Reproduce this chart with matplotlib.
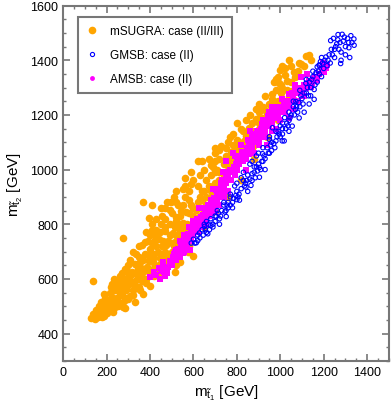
import numpy as np
import matplotlib.pyplot as plt
from matplotlib.lines import Line2D
from matplotlib.ticker import MultipleLocator

plt.rcParams['font.family'] = ['Liberation Sans', 'DejaVu Sans']
plt.rcParams['mathtext.fontset'] = 'custom'
plt.rcParams['mathtext.rm'] = 'Liberation Sans'
plt.rcParams['mathtext.it'] = 'Liberation Sans'

# mSUGRA: case (II/III)  (m_stop1, m_stop2) in GeV
msugra = [
    (130, 455), (145, 452), (138, 472), (160, 460), (177, 462), (183, 490), (150, 485),
    (200, 475), (230, 480), (215, 505), (175, 515), (195, 530), (223, 534), (240, 520),
    (260, 545), (246, 563), (277, 497), (284, 494), (270, 575), (290, 560), (307, 539),
    (330, 516), (367, 545), (399, 575), (445, 611), (300, 590), (321, 581), (261, 610),
    (284, 635), (136, 593), (250, 590), (280, 600), (310, 610), (340, 600), (361, 593),
    (344, 617), (330, 653), (300, 650), (360, 640), (384, 642), (413, 660), (390, 689),
    (370, 670), (420, 690), (445, 678), (400, 710), (430, 720), (422, 743), (460, 740),
    (476, 725), (468, 774), (505, 769), (490, 800), (521, 828), (551, 805), (540, 780),
    (520, 740), (500, 700), (480, 680), (514, 624), (560, 760), (598, 683), (580, 720),
    (567, 846), (613, 852), (491, 852), (498, 882), (408, 870), (367, 881), (277, 750),
    (361, 725), (395, 823), (450, 800), (530, 870), (590, 948), (560, 900), (620, 880),
    (640, 920), (600, 960), (620, 1032), (660, 960), (682, 1015), (700, 990), (688, 1011),
    (720, 1040), (728, 1087), (760, 1020), (774, 1063), (800, 1060), (812, 1093), (830, 1080),
    (842, 1123), (858, 1153), (870, 1110), (835, 1105), (904, 1171), (888, 1184), (920, 1160),
    (934, 1213), (940, 1207), (964, 1243), (980, 1195), (960, 1275), (1003, 1311), (995, 1316),
    (1032, 1325), (1003, 1280), (1049, 1286), (998, 1364), (1064, 1358), (1087, 1391),
    (1095, 1388), (1118, 1414), (1141, 1400), (1020, 1250), (990, 1230), (950, 1180),
    (900, 1130), (870, 1140), (780, 1000), (740, 980), (700, 950), (660, 900), (640, 860),
    (600, 830), (570, 800), (540, 830), (620, 810), (680, 920), (720, 960), (760, 1000),
    (800, 1030), (840, 1070), (880, 1090), (730, 930), (690, 880), (650, 840), (610, 780),
    (560, 740), (520, 760), (470, 700), (440, 650), (410, 620), (380, 600), (350, 570),
    (320, 560), (290, 530), (260, 510), (350, 680), (320, 700), (400, 760), (430, 780),
    (455, 830), (470, 860), (510, 900), (550, 930), (700, 1060), (760, 1100), (820, 1150),
    (860, 1200), (900, 1240), (980, 1330), (1010, 1380), (1040, 1400), (270, 540), (200, 500),
    (240, 560), (330, 620), (360, 610), (420, 640), (470, 660), (500, 730), (540, 800),
    (590, 870), (630, 900), (670, 940), (710, 1000), (750, 1050), (790, 1080), (920, 1190),
    (1030, 1290),
    (155, 470), (170, 480), (190, 465), (210, 490), (235, 495), (255, 500),
    (165, 500), (185, 510), (205, 520), (230, 515), (250, 530), (280, 520), (300, 525),
    (320, 540), (190, 545), (215, 550),
    (220, 570), (225, 580), (255, 575), (275, 560), (295, 575), (315, 590), (335, 575),
    (355, 560), (380, 585), (235, 600), (265, 590),
    (270, 620), (295, 630), (315, 625), (345, 640), (370, 625), (395, 630), (420, 610),
    (440, 630), (300, 605), (350, 605),
    (310, 670), (335, 690), (355, 660), (375, 690), (395, 665), (415, 675), (435, 700),
    (455, 690), (475, 670), (495, 690), (520, 650), (540, 660),
    (350, 720), (375, 735), (390, 740), (410, 730), (440, 745), (455, 720), (485, 740),
    (510, 720), (530, 700), (560, 720), (575, 700),
    (380, 770), (410, 780), (425, 760), (445, 770), (470, 790), (490, 760), (515, 790),
    (535, 760), (555, 780), (585, 770), (600, 790),
    (410, 800), (430, 820), (470, 820), (500, 840), (520, 810), (545, 850), (580, 840),
    (600, 800), (630, 830),
    (450, 860), (480, 880), (520, 880), (550, 870), (580, 890), (600, 860), (640, 890),
    (660, 870), (680, 900),
    (520, 920), (560, 940), (580, 920), (620, 940), (650, 920), (690, 940), (710, 920),
    (560, 970), (590, 990), (630, 980), (650, 1000), (680, 980), (720, 990), (750, 970),
    (640, 1030), (670, 1040), (700, 1030), (740, 1020), (770, 1040), (790, 1020), (810, 1050),
    (700, 1080), (720, 1070), (750, 1080), (780, 1090), (820, 1070), (850, 1090), (870, 1080),
    (770, 1120), (780, 1130), (800, 1110), (830, 1140), (880, 1130), (900, 1150),
    (800, 1170), (840, 1180), (870, 1170), (900, 1190), (930, 1180), (960, 1200),
    (890, 1220), (900, 1210), (920, 1230), (950, 1240), (990, 1250),
    (930, 1270), (960, 1260), (980, 1290), (1010, 1300), (1040, 1270),
    (970, 1320), (990, 1340), (1020, 1345), (1050, 1320), (1070, 1340),
    (1020, 1370), (1050, 1380), (1080, 1360), (1110, 1380), (1130, 1420),
    (700, 850), (760, 900), (820, 960), (880, 1040), (940, 1120), (990, 1180), (650, 790),
    (1060, 1260),
]

# GMSB: case (II)
gmsb = [
    (590, 731), (606, 731), (628, 768), (613, 732), (651, 792), (666, 765), (640, 780),
    (674, 780), (660, 810), (690, 800), (700, 830), (705, 828), (720, 820), (751, 828),
    (730, 850), (740, 870), (760, 860), (780, 880), (770, 900), (812, 888), (800, 920),
    (790, 940), (842, 936), (830, 960), (865, 942), (850, 980), (820, 970), (880, 990),
    (904, 972), (890, 1010), (904, 1008), (870, 1030), (918, 1058), (930, 1040), (900, 1060),
    (940, 1080), (960, 1100), (980, 1105), (950, 1120), (964, 1153), (990, 1140), (1009, 1105),
    (1000, 1160), (1018, 1105), (1030, 1170), (1055, 1159), (1020, 1190), (1050, 1200),
    (1087, 1189), (1072, 1249), (1060, 1230), (1090, 1230), (1100, 1260), (1118, 1316),
    (1133, 1240), (1156, 1257), (1120, 1280), (1140, 1300), (1156, 1293), (1170, 1320),
    (1180, 1350), (1150, 1340), (1170, 1376), (1179, 1383), (1200, 1370), (1210, 1412),
    (1220, 1400), (1232, 1472), (1250, 1440), (1240, 1420), (1266, 1494), (1278, 1388),
    (1280, 1430), (1300, 1450), (1316, 1446), (1290, 1470), (1310, 1480), (1339, 1478),
    (1320, 1410), (1260, 1460), (1230, 1390), (1190, 1410), (1130, 1270), (1110, 1210),
    (1080, 1210), (1040, 1140), (1000, 1120), (960, 1070), (930, 1000), (900, 1020),
    (870, 960), (840, 950), (810, 910), (780, 860), (750, 850), (720, 800), (690, 790),
    (660, 770), (630, 750), (760, 880), (800, 890), (850, 920), (880, 1010), (920, 1030),
    (950, 1060), (975, 1080), (1010, 1150), (1040, 1180), (1070, 1220), (1105, 1240),
    (1140, 1270), (1160, 1310), (1190, 1340), (1215, 1380), (1250, 1410), (1270, 1440),
    (1300, 1420), (1330, 1465), (1285, 1495), (1245, 1480),
    (600, 745), (620, 740), (645, 760), (655, 780), (680, 795), (670, 800), (700, 810),
    (715, 840), (725, 830), (745, 845), (755, 870), (770, 870), (785, 895), (795, 905),
    (805, 900), (820, 930), (835, 940), (845, 960), (860, 965), (870, 985), (885, 970),
    (895, 995), (910, 1000), (915, 1030), (925, 1050), (945, 1060), (955, 1090), (970, 1095),
    (985, 1120), (995, 1130), (1010, 1130), (1025, 1150), (1035, 1160), (1045, 1190),
    (1065, 1200), (1075, 1230), (1085, 1245), (1095, 1270), (1110, 1280), (1125, 1300),
    (1135, 1320), (1145, 1330), (1165, 1355), (1175, 1360), (1185, 1395), (1195, 1390),
    (1205, 1400), (1225, 1420), (1235, 1440), (1255, 1450), (1275, 1465), (1295, 1485),
    (1325, 1490), (1315, 1465), (1265, 1475), (1340, 1455), (1280, 1400),
    (680, 820), (710, 850), (740, 880), (770, 910), (800, 950), (830, 990), (860, 1020),
    (890, 1050), (920, 1080), (950, 1110), (980, 1140), (1010, 1170), (1040, 1210),
    (1060, 1250), (1090, 1290), (1120, 1330), (1150, 1360), (1180, 1380), (650, 800),
    (620, 760),
]

# AMSB: case (II)
amsb = [
    (399, 607), (445, 599), (453, 629), (430, 615), (470, 640), (482, 642), (491, 665),
    (460, 660), (505, 680), (528, 689), (515, 700), (521, 707), (551, 696), (537, 739),
    (545, 720), (567, 750), (555, 760), (582, 707), (597, 774), (580, 790), (610, 770),
    (620, 803), (600, 810), (643, 834), (630, 790), (659, 798), (666, 852), (650, 860),
    (628, 860), (670, 830), (690, 870), (680, 890), (700, 880), (705, 924), (715, 900),
    (690, 930), (730, 910), (725, 950), (740, 940), (751, 985), (745, 960), (760, 970),
    (770, 1000), (735, 990), (785, 1010), (812, 1022), (800, 1040), (790, 980), (820, 1050),
    (830, 1030), (858, 1058), (845, 1080), (860, 1090), (870, 1070), (858, 1094), (880, 1100),
    (904, 1105), (890, 1130), (910, 1120), (870, 1120), (918, 1166), (930, 1140), (950, 1159),
    (940, 1180), (960, 1170), (980, 1202), (970, 1220), (990, 1190), (1000, 1230), (1009, 1221),
    (1020, 1210), (1041, 1189), (1030, 1250), (1041, 1275), (1060, 1260), (1070, 1290),
    (1095, 1340), (1101, 1286), (1120, 1300), (1141, 1304), (1147, 1316), (1170, 1329),
    (1160, 1340), (1202, 1358), (1216, 1383), (1190, 1370), (760, 920), (720, 870), (680, 840),
    (640, 810), (600, 760), (570, 720), (540, 680), (500, 650), (880, 1060), (900, 1090),
    (930, 1120), (960, 1140), (1000, 1180), (840, 1040), (800, 1000), (775, 960), (740, 900),
    (700, 850), (660, 820), (620, 770), (590, 740), (555, 700), (520, 670), (480, 620),
    (840, 1000), (940, 1090), (980, 1150), (1060, 1220), (1080, 1250), (1110, 1270),
    (1010, 1260), (950, 1210), (910, 1150), (860, 1140), (820, 1090), (780, 1060), (750, 1030),
    (420, 625), (440, 640), (465, 625), (495, 655), (510, 690), (530, 710), (550, 735),
    (565, 730), (575, 765), (590, 780), (605, 790), (615, 820), (635, 825), (655, 840),
    (665, 870), (675, 855), (695, 895), (710, 910), (720, 930), (735, 925), (750, 950),
    (765, 990), (780, 995), (795, 1020), (810, 1030), (825, 1065), (835, 1055), (850, 1070),
    (865, 1100), (885, 1115), (895, 1140), (905, 1135), (920, 1150), (935, 1170), (945, 1195),
    (960, 1190), (975, 1200), (985, 1230), (995, 1215), (1015, 1240), (1025, 1230),
    (1050, 1250), (1055, 1280), (1080, 1280), (1090, 1300), (1110, 1310), (1130, 1325),
    (1150, 1330), (1180, 1350), (1195, 1390), (1210, 1370), (690, 850), (710, 880),
    (650, 800), (730, 960), (790, 1050), (850, 1110), (920, 1180), (960, 1230), (1070, 1310),
    (1125, 1350), (580, 760), (540, 700), (470, 610), (620, 790), (870, 1090), (1000, 1210),
    (1040, 1230),
]

x_ticks = [0, 200, 400, 600, 800, 1000, 1200, 1400]
y_ticks = [400, 600, 800, 1000, 1200, 1400, 1600]

fig = plt.figure(figsize=(3.92, 4.14), dpi=100)
ax = fig.add_axes([0.161, 0.126, 0.831, 0.858])

ms = np.array(msugra)
gm = np.array(gmsb)
am = np.array(amsb)

ax.scatter(ms[:, 0], ms[:, 1], s=30, color='#ffa500', linewidths=0)
ax.scatter(am[:, 0], am[:, 1], s=13, color='#ff00ff', marker='s', linewidths=0)
ax.scatter(gm[:, 0], gm[:, 1], s=10, facecolors='none', edgecolors='#0000ff', linewidths=0.8)

ax.set_xlim(0, 1500)
ax.set_ylim(300, 1600)
ax.set_xticks(x_ticks)
ax.set_yticks(y_ticks)
ax.xaxis.set_minor_locator(MultipleLocator(50))
ax.yaxis.set_minor_locator(MultipleLocator(50))
ax.tick_params(which='both', direction='in', top=True, right=True, labelsize=9, colors='#777777',
               labelcolor='black')
ax.tick_params(which='major', length=5, width=1.2)
ax.tick_params(which='minor', length=2.5, width=1)
for sp in ax.spines.values():
    sp.set_color('#777777')
    sp.set_linewidth(1.5)

ax.set_xlabel(r'm$_{\tilde{\mathrm{t}}_1}$ [GeV]', fontsize=11)
ax.set_ylabel(r'm$_{\tilde{\mathrm{t}}_2}$ [GeV]', fontsize=11)

# legend with its own marker sizes
handles = [
    Line2D([], [], ls='none', marker='o', ms=5.5, mfc='#ffa500', mec='none'),
    Line2D([], [], ls='none', marker='o', ms=3, mfc='none', mec='#0000ff', mew=0.8),
    Line2D([], [], ls='none', marker='o', ms=3.5, mfc='#ff00ff', mec='none'),
]
labels = ['mSUGRA: case (II/III)', 'GMSB: case (II)', 'AMSB: case (II)']
leg = ax.legend(handles, labels, loc='upper left',
                bbox_to_anchor=(0.046, 0.968), borderaxespad=0, fontsize=8.5,
                fancybox=False, framealpha=1, edgecolor='#777777', labelspacing=1.0,
                handletextpad=1.0, borderpad=0.7, handlelength=1.0)
leg.get_frame().set_linewidth(1.5)

fig.savefig('out.png', dpi=100)
